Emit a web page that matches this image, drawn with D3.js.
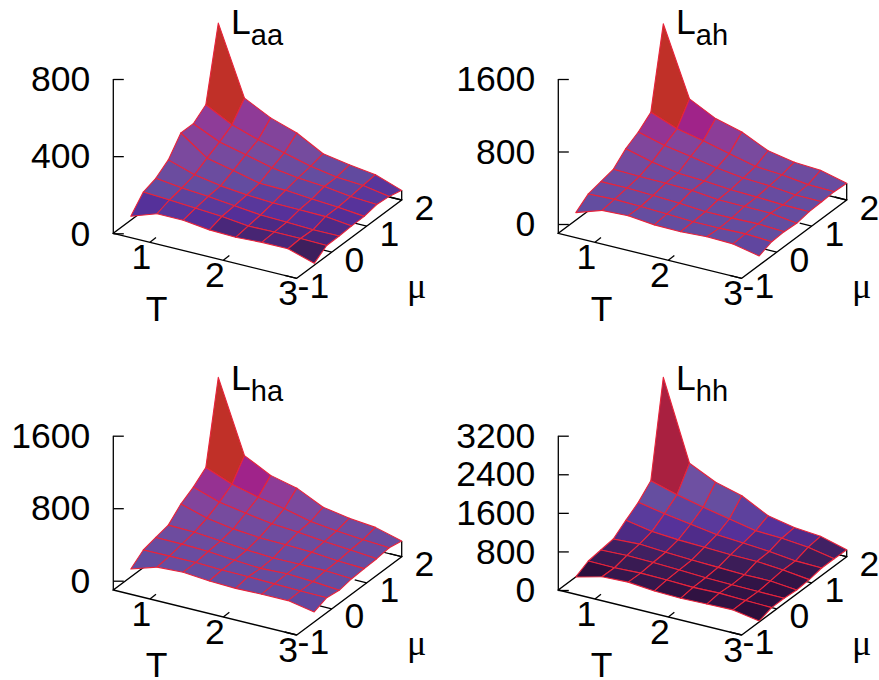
<!DOCTYPE html>
<html>
<head>
<meta charset="utf-8">
<script src="https://cdn.jsdelivr.net/npm/d3@7"></script>
<style>
  html, body { margin: 0; background: #fff; }
  svg { display: block; }
  text { font-family: "Liberation Sans", sans-serif; fill: #000; }
</style>
</head>
<body>
<div id="main"></div>
<script>
// grid of the surface
const tNodes = [0.5, 0.857, 1.214, 1.571, 1.929, 2.286, 2.643, 3.0];
const muNodes = [-0.5, -0.143, 0.214, 0.571, 0.929, 1.286, 1.643, 2.0];
const tTicks = [1, 2, 3];
const muTicks = [-1, 0, 1, 2];

// one row per mu node, one column per T node
const zAa = [
    [21, 67, 67, 50, 45, 52, 52, 10],
    [98, 90, 81, 71, 55, 57, 57, 54],
    [121, 104, 93, 78, 64, 60, 54, 55],
    [168, 124, 100, 86, 78, 76, 74, 59],
    [259, 162, 131, 98, 95, 83, 74, 60],
    [259, 197, 164, 130, 111, 100, 81, 73],
    [309, 238, 194, 159, 123, 100, 90, 67],
    [684, 328, 259, 214, 140, 116, 98, 50]
];
const zAh = [
    [-18, 77, 88, 59, 55, 70, 62, 0],
    [85, 96, 88, 77, 62, 62, 70, 54],
    [118, 118, 107, 92, 70, 70, 77, 62],
    [151, 143, 140, 129, 99, 96, 92, 52],
    [276, 199, 147, 132, 107, 96, 81, 77],
    [357, 280, 228, 173, 132, 118, 88, 84],
    [471, 360, 298, 228, 158, 136, 99, 92],
    [1346, 588, 441, 364, 228, 173, 154, 82]
];
const zHa = [
    [-15, 77, 92, 66, 55, 62, 62, 8],
    [92, 95, 95, 84, 81, 73, 66, 62],
    [128, 125, 114, 88, 70, 81, 66, 41],
    [161, 154, 128, 99, 81, 84, 84, 66],
    [290, 205, 158, 132, 125, 114, 88, 74],
    [374, 279, 228, 183, 161, 128, 106, 81],
    [488, 374, 301, 246, 176, 143, 117, 99],
    [1380, 587, 440, 370, 231, 180, 150, 71]
];
const zHh = [
    [0, 138, 159, 110, 90, 104, 117, 21],
    [138, 131, 152, 145, 124, 138, 117, 104],
    [172, 193, 179, 159, 131, 117, 110, 104],
    [207, 235, 200, 172, 152, 131, 138, 83],
    [400, 304, 262, 241, 221, 214, 172, 104],
    [580, 476, 393, 310, 269, 228, 166, 152],
    [835, 676, 552, 442, 331, 310, 255, 152],
    [2788, 1138, 876, 731, 449, 338, 290, 145]
];

const ticksAa = [0, 400, 800];
const ticksAh = [0, 800, 1600];
const ticksHa = [0, 800, 1600];
const ticksHh = [0, 800, 1600, 2400, 3200];

const palette = ['#2a1228', '#3e1f5c', '#55309a', '#634da0', '#7a4a9e', '#8e3c98', '#a0238a', '#c03028'];
const paletteHh = ['#2c0f3c', '#3e1f5c', '#55309a', '#634da0', '#6e50a2', '#8e3c98', '#a0238a', '#a92040'];
const colorsAa = [10, 43, 68, 105, 175, 250, 320, 390];
const colorsAh = [-100, -50, 0, 60, 250, 340, 420, 690];
const colorsHa = [-100, -50, 0, 60, 250, 340, 425, 700];
const colorsHh = [95, 190, 340, 600, 810, 1000, 1100, 1360];

const panels = [
    { sub: 'aa', z: zAa, ticks: ticksAa, zeroY: 233.3, dx: 0, dy: 0, colors: colorsAa, pal: palette },
    { sub: 'ah', z: zAh, ticks: ticksAh, zeroY: 224, dx: 445, dy: 0, colors: colorsAh, pal: palette },
    { sub: 'ha', z: zHa, ticks: ticksHa, zeroY: 224, dx: 0, dy: 356.7, colors: colorsHa, pal: palette },
    { sub: 'hh', z: zHh, ticks: ticksHh, zeroY: 233.3, dx: 445, dy: 356.7, colors: colorsHh, pal: paletteHh }
];

const width = 879, height = 680;
const fontSize = 35.5;
const originX = 113.3, baseY = 233.3, topY = 79;

const svg = d3.select('#main').append('svg').attr('width', width).attr('height', height);

// the T and mu axes are skewed, so each one moves both x and y on screen
const xT = d3.scaleLinear().domain([0.5, 3]).range([0, 183.4]);
const yT = d3.scaleLinear().domain([0.5, 3]).range([0, 45]);
const xMu = d3.scaleLinear().domain([-1, 2]).range([0, 105]);
const yMu = d3.scaleLinear().domain([-1, 2]).range([0, -78.3]);

const lineGen = d3.line();

function drawPanel(p) {
    const g = svg.append('g').attr('transform', `translate(${p.dx},${p.dy})`);
    const zScale = d3.scaleLinear().domain([0, d3.max(p.ticks)]).range([p.zeroY, topY]);
    const colorScale = d3.scaleLinear().domain(p.colors).range(p.pal).clamp(true);

    const project = (t, mu, y) => [originX + xT(t) + xMu(mu), y + yT(t) + yMu(mu)];
    const node = (i, j) => project(tNodes[i], muNodes[j], zScale(p.z[j][i]));

    // base plane
    const corners = [
        project(0.5, -1, baseY),
        project(3, -1, baseY),
        project(3, 2, baseY),
        project(0.5, 2, baseY)
    ];
    g.append('path')
        .attr('d', lineGen(corners) + 'Z')
        .style('fill', 'none')
        .style('stroke', '#000')
        .style('stroke-width', 1.3);

    g.append('line')
        .attr('x1', corners[2][0]).attr('y1', corners[2][1])
        .attr('x2', node(7, 7)[0]).attr('y2', node(7, 7)[1])
        .style('stroke', '#000')
        .style('stroke-width', 1.3);

    // base ticks point inside the plane
    g.selectAll('.ttick')
        .data(tTicks.slice(0, 2))
        .enter()
        .append('path')
        .attr('d', d => {
            const a = project(d, -1, baseY);
            return lineGen([a, [a[0] + 6, a[1] - 4.7]]);
        })
        .style('stroke', '#000')
        .style('stroke-width', 1.3);

    g.selectAll('.mutick')
        .data(muTicks)
        .enter()
        .append('path')
        .attr('d', d => {
            const a = project(3, d, baseY);
            return lineGen([a, [a[0] - 12, a[1] - 3]]);
        })
        .style('stroke', '#000')
        .style('stroke-width', 1.3);

    // z axis
    g.append('line')
        .attr('x1', originX).attr('y1', baseY)
        .attr('x2', originX).attr('y2', topY)
        .style('stroke', '#000')
        .style('stroke-width', 1.3);

    const zAxis = g.append('g')
        .attr('transform', `translate(${originX},0)`)
        .call(d3.axisLeft(zScale).tickValues(p.ticks).tickFormat(d3.format('d')).tickSize(-10.5).tickPadding(23));
    zAxis.select('.domain').remove();
    zAxis.selectAll('line').style('stroke', '#000').style('stroke-width', 1.3);
    zAxis.selectAll('text')
        .style('font-size', fontSize + 'px')
        .style('font-family', '"Liberation Sans", sans-serif')
        .attr('dy', '0.33em');

    // surface, back to front
    const cells = [];
    for (let j = 6; j >= 0; j--) {
        for (let i = 0; i < 7; i++) {
            cells.push({ i: i, j: j });
        }
    }
    g.selectAll('.cell')
        .data(cells)
        .enter()
        .append('path')
        .attr('class', 'cell')
        .attr('d', d => lineGen([node(d.i, d.j), node(d.i + 1, d.j), node(d.i + 1, d.j + 1), node(d.i, d.j + 1)]) + 'Z')
        .style('fill', d => colorScale(d3.mean([p.z[d.j][d.i], p.z[d.j][d.i + 1], p.z[d.j + 1][d.i], p.z[d.j + 1][d.i + 1]])))
        .style('stroke', '#e8233a')
        .style('stroke-width', 1.1)
        .style('stroke-linejoin', 'round');

    // tick labels
    g.selectAll('.tlabel')
        .data(tTicks)
        .enter()
        .append('text')
        .attr('x', d => project(d, -1, baseY)[0] - 8.5)
        .attr('y', d => project(d, -1, baseY)[1] + 27)
        .style('font-size', fontSize + 'px')
        .style('text-anchor', 'middle')
        .text(d => d);

    g.selectAll('.mulabel')
        .data(muTicks)
        .enter()
        .append('text')
        .attr('x', d => project(3, d, baseY)[0] + 32.5)
        .attr('y', d => project(3, d, baseY)[1] + 19.5)
        .style('font-size', fontSize + 'px')
        .style('text-anchor', 'end')
        .text(d => d);

    g.append('text')
        .attr('x', 156.7)
        .attr('y', 320.7)
        .style('font-size', fontSize + 'px')
        .style('text-anchor', 'middle')
        .text('T');

    g.append('text')
        .attr('x', 416.7)
        .attr('y', 298)
        .style('font-size', '36px')
        .style('font-family', '"Liberation Serif", serif')
        .style('text-anchor', 'middle')
        .text('\u03bc');

    const title = g.append('text')
        .attr('x', 231)
        .attr('y', 33.5)
        .style('font-size', fontSize + 'px');
    title.append('tspan').text('L');
    title.append('tspan')
        .attr('dy', 11)
        .style('font-size', '29px')
        .text(p.sub);
}

panels.forEach(drawPanel);
</script>
</body>
</html>
